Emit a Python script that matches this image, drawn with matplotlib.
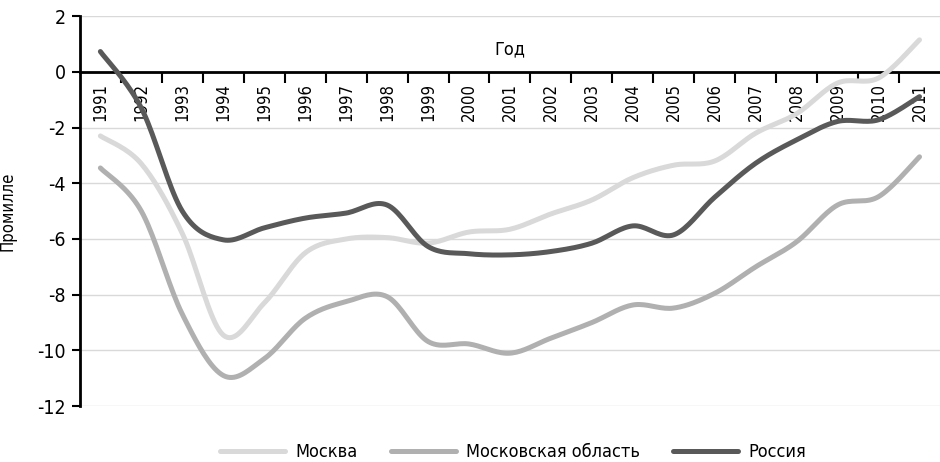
import numpy as np
import matplotlib
matplotlib.use("Agg")
import matplotlib.pyplot as plt

plt.rcParams['font.family'] = ['DejaVu Sans']
plt.rcParams['font.stretch'] = 'condensed'
plt.rcParams['axes.unicode_minus'] = False

years = [str(y) for y in range(1991, 2012)]
moscow = [-2.3, -3.3, -5.8, -9.45, -8.3, -6.5, -6.0, -5.95, -6.15, -5.75, -5.65,
          -5.1, -4.6, -3.8, -3.35, -3.2, -2.2, -1.5, -0.4, -0.22, 1.15]
moscow_obl = [-3.45, -5.0, -8.7, -10.9, -10.3, -8.85, -8.25, -8.07, -9.68, -9.77, -10.1,
              -9.56, -9.0, -8.37, -8.48, -7.95, -7.0, -6.1, -4.78, -4.48, -3.05]
russia = [0.73, -1.3, -5.0, -6.03, -5.6, -5.25, -5.07, -4.78, -6.27, -6.53, -6.57,
          -6.45, -6.15, -5.53, -5.85, -4.5, -3.28, -2.44, -1.78, -1.72, -0.89]

series = [("Москва", moscow, "#d9d9d9"),
          ("Московская область", moscow_obl, "#b0b0b0"),
          ("Россия", russia, "#595959")]


def smooth(x, y, n=20):
    # excel-like smoothing: cubic bezier with catmull-rom tangents
    x = np.asarray(x, float)
    y = np.asarray(y, float)
    px = np.concatenate([[x[0]], x, [x[-1]]])
    py = np.concatenate([[y[0]], y, [y[-1]]])
    xs, ys = [], []
    t = np.linspace(0, 1, n)
    for i in range(1, len(px) - 2):
        p0 = np.array([px[i], py[i]])
        p3 = np.array([px[i + 1], py[i + 1]])
        p1 = p0 + (p3 - np.array([px[i - 1], py[i - 1]])) / 6
        p2 = p3 - (np.array([px[i + 2], py[i + 2]]) - p0) / 6
        b = ((1 - t) ** 3)[:, None] * p0 + (3 * (1 - t) ** 2 * t)[:, None] * p1 \
            + (3 * (1 - t) * t ** 2)[:, None] * p2 + (t ** 3)[:, None] * p3
        xs.extend(b[:, 0])
        ys.extend(b[:, 1])
    return xs, ys


fig = plt.figure(figsize=(9.4, 4.62), dpi=100)
ax = fig.add_axes([0.085, 0.121, 0.915, 0.844])

xi = np.arange(len(years))
for name, vals, col in series:
    sx, sy = smooth(xi, vals)
    ax.plot(sx, sy, color=col, lw=3.6, label=name, solid_capstyle='round', zorder=3)

ax.set_xlim(-0.5, len(years) - 0.5)
ax.set_ylim(-12, 2)
ax.set_yticks(range(-12, 3, 2))
ax.yaxis.grid(True, color='#d9d9d9', lw=1)
ax.set_axisbelow(True)
ax.tick_params(axis='y', labelsize=14, length=6, width=1.5, direction='out', pad=4)

ax.spines['top'].set_visible(False)
ax.spines['right'].set_visible(False)
ax.spines['left'].set_linewidth(2)
ax.spines['bottom'].set_position(('data', 0))
ax.spines['bottom'].set_linewidth(2)
ax.spines['bottom'].set_zorder(2)

ax.set_xticks(xi)
ax.set_xticklabels(years, rotation=90, fontsize=12, va='top')
ax.set_xticks(np.arange(0.5, len(years) - 0.5, 1), minor=True)
ax.tick_params(axis='x', which='major', length=0, pad=8)
ax.tick_params(axis='x', which='minor', length=8, width=1.5, direction='out')

ax.text(0.5, 0.915, "Год", transform=ax.transAxes, ha='center', va='center', fontsize=13)
ax.set_ylabel("Промилле", fontsize=12, labelpad=8)
ax.yaxis.set_label_coords(-0.074, 0.5)

fig.legend(loc='center', bbox_to_anchor=(0.546, 0.022), ncol=3, frameon=False,
           fontsize=13, handlelength=3.6, handletextpad=0.6, columnspacing=1.8)

fig.savefig("out.png", dpi=100)
